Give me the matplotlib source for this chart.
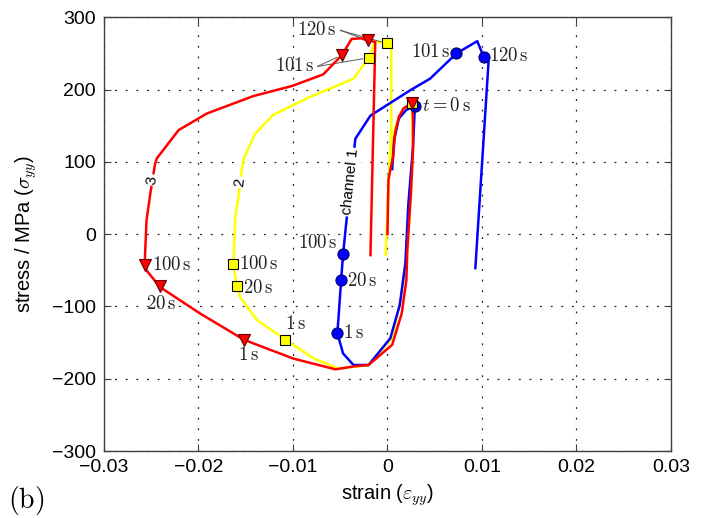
import matplotlib
matplotlib.use("Agg")
import matplotlib.pyplot as plt

plt.rcParams['font.family'] = ['Liberation Sans', 'DejaVu Sans']
plt.rcParams['mathtext.fontset'] = 'cm'

# channel 1 (blue): strain / stress path
ch1_strain = [0.0005, 0.0007, 0.0012, 0.0020, 0.0029, 0.0027, 0.0022, 0.0019, 0.0013,
              0.0003, -0.0020, -0.0036, -0.0047, -0.0053, -0.0049, -0.0047, -0.0044,
              -0.0034, -0.0018, 0.0024, 0.0045, 0.0073, 0.0095, 0.0102, 0.0107, 0.0093]
ch1_stress = [90, 130, 160, 172, 177, 120, 40, -40, -98,
              -144, -181, -181, -165, -137, -63, -28, 11,
              132, 164, 199, 215, 250, 267, 245, 239, -47]

# channel 2 (yellow)
ch2_strain = [0.0000, 0.0001, 0.0003, 0.0006, 0.0012, 0.0017, 0.0026, 0.0027, 0.0025,
              0.0021, 0.0015, 0.0005, -0.0020, -0.0052, -0.0078, -0.0108, -0.0138,
              -0.0156, -0.0159, -0.0161, -0.0163, -0.0161, -0.0158, -0.0154, -0.0152,
              -0.0140, -0.0121, -0.0085, -0.0036, -0.0020, -0.0013, -0.0001, 0.0004,
              0.0004, -0.0002]
ch2_stress = [0, 75, 100, 139, 162, 174, 181, 116, 61,
              -22, -84, -144, -181, -186, -172, -146, -119,
              -87, -72, -59, -41, 24, 49, 91, 105,
              139, 165, 188, 215, 244, 266, 265, 259,
              150, -29]

# channel 3 (red)
ch3_strain = [0.0000, 0.0001, 0.0003, 0.0006, 0.0008, 0.0012, 0.0017, 0.0026, 0.0027,
              0.0027, 0.0025, 0.0021, 0.0020, 0.0015, 0.0005, -0.0020, -0.0036,
              -0.0055, -0.0100, -0.0152, -0.0198, -0.0241, -0.0255, -0.0257, -0.0255,
              -0.0251, -0.0246, -0.0244, -0.0221, -0.0191, -0.0142, -0.0101, -0.0068,
              -0.0048, -0.0038, -0.0028, -0.0021, -0.0013, -0.0013, -0.0018]
ch3_stress = [0, 75, 89, 107, 139, 162, 174, 182, 160,
              116, 61, -22, -64, -110, -153, -181, -183,
              -187, -172, -146, -110, -73, -50, -42, 19,
              56, 97, 105, 144, 167, 191, 205, 221,
              248, 270, 271, 268, 266, 262, -29]

# time markers: t=0, 1 s, 20 s, 100 s, 101 s, 120 s
ch1_mark_strain = [0.0029, -0.0053, -0.0049, -0.0047, 0.0073, 0.0102]
ch1_mark_stress = [177, -137, -63, -28, 250, 245]
ch2_mark_strain = [0.0026, -0.0108, -0.0159, -0.0163, -0.0020, -0.0001]
ch2_mark_stress = [181, -146, -72, -41, 244, 264]
ch3_mark_strain = [0.0026, -0.0152, -0.0241, -0.0257, -0.0048, -0.0021]
ch3_mark_stress = [182, -146, -72, -42, 248, 268]

time_labels = [r'$t=0\,\mathrm{s}$', r'$1\,\mathrm{s}$', r'$20\,\mathrm{s}$',
               r'$100\,\mathrm{s}$', r'$101\,\mathrm{s}$', r'$120\,\mathrm{s}$']

xticks = [-0.03, -0.02, -0.01, 0, 0.01, 0.02, 0.03]
xtick_labels = ['\u22120.03', '\u22120.02', '\u22120.01', '0', '0.01', '0.02', '0.03']
yticks = [-300, -200, -100, 0, 100, 200, 300]
ytick_labels = ['\u2212300', '\u2212200', '\u2212100', '0', '100', '200', '300']

fig = plt.figure(figsize=(7.07, 5.18), dpi=100)
ax = fig.add_axes([0.1471, 0.1293, 0.8019, 0.8373])

lw = 1.8
ax.plot(ch2_strain, ch2_stress, color='#ffff00', lw=lw, zorder=2)
ax.plot(ch1_strain, ch1_stress, color='#0000ff', lw=lw, zorder=3)
ax.plot(ch3_strain, ch3_stress, color='#ff0000', lw=lw, zorder=4)

ax.plot(ch1_mark_strain, ch1_mark_stress, 'o', ms=8, mfc='#0000ff', mec='#000060',
        mew=0.8, zorder=5)
ax.plot(ch2_mark_strain, ch2_mark_stress, 's', ms=7, mfc='#ffff00', mec='black',
        mew=0.8, zorder=6)
ax.plot(ch3_mark_strain, ch3_mark_stress, 'v', ms=9, mfc='#ff0000', mec='#600000',
        mew=0.8, zorder=7)

tfs = 13.5
tcol = '#222222'


def lab(x, y, s, dx, dy, ha='left'):
    ax.annotate(s, (x, y), xytext=(dx, dy), textcoords='offset points',
                ha=ha, va='center', fontsize=tfs, color=tcol, zorder=8)


# t = 0
lab(ch1_mark_strain[0], ch1_mark_stress[0], time_labels[0], 5, 0)
# channel 1 labels
lab(ch1_mark_strain[1], ch1_mark_stress[1], time_labels[1], 4, 0)
lab(ch1_mark_strain[2], ch1_mark_stress[2], time_labels[2], 4, -1)
lab(ch1_mark_strain[3], ch1_mark_stress[3], time_labels[3], -4, 8, ha='right')
lab(ch1_mark_strain[4], ch1_mark_stress[4], time_labels[4], -4, 1, ha='right')
lab(ch1_mark_strain[5], ch1_mark_stress[5], time_labels[5], 4, 1)
# channel 2 labels
lab(ch2_mark_strain[1], ch2_mark_stress[1], time_labels[1], 0, 11)
lab(ch2_mark_strain[2], ch2_mark_stress[2], time_labels[2], 4, -1)
lab(ch2_mark_strain[3], ch2_mark_stress[3], time_labels[3], 4, 0)
# channel 3 labels
lab(ch3_mark_strain[1], ch3_mark_stress[1], time_labels[1], -4, -11)
lab(ch3_mark_strain[2], ch3_mark_stress[2], time_labels[2], -10, -13)
lab(ch3_mark_strain[3], ch3_mark_stress[3], time_labels[3], 5, 0)

# shared leader labels for channels 2 and 3 at 101 s / 120 s
ax.text(-0.00535, 282, time_labels[5], ha='right', va='center', fontsize=tfs,
        color=tcol, zorder=8)
ax.text(-0.0077, 233, time_labels[4], ha='right', va='center', fontsize=tfs,
        color=tcol, zorder=8)
lead = dict(arrowstyle='-', color='0.35', lw=0.7, shrinkA=0, shrinkB=4)
ax.annotate('', xy=(ch3_mark_strain[5], ch3_mark_stress[5]), xytext=(-0.0050, 282),
            arrowprops=lead)
ax.annotate('', xy=(ch2_mark_strain[5], ch2_mark_stress[5]), xytext=(-0.0050, 282),
            arrowprops=lead)
ax.annotate('', xy=(ch3_mark_strain[4], ch3_mark_stress[4]), xytext=(-0.0074, 232),
            arrowprops=lead)
ax.annotate('', xy=(ch2_mark_strain[4], ch2_mark_stress[4]), xytext=(-0.0074, 232),
            arrowprops=lead)

# inline channel labels
box = dict(facecolor='white', edgecolor='none', pad=1)
ax.text(-0.00388, 72, 'channel 1', rotation=84, ha='center', va='center',
        fontsize=11, bbox=box, zorder=4.5)
ax.text(-0.0156, 72, '2', rotation=84, ha='center', va='center',
        fontsize=11, bbox=box, zorder=4.5)
ax.text(-0.0249, 75, '3', rotation=83, ha='center', va='center',
        fontsize=11, bbox=box, zorder=4.5)

ax.set_xlim(-0.03, 0.03)
ax.set_ylim(-300, 300)
ax.set_xticks(xticks)
ax.set_xticklabels(xtick_labels)
ax.set_yticks(yticks)
ax.set_yticklabels(ytick_labels)
ax.tick_params(direction='in', top=True, right=True, length=5, width=0.8,
               color='#404040', labelsize=14, pad=6)
for sp in ax.spines.values():
    sp.set_color('#404040')
    sp.set_linewidth(1.0)
ax.grid(True, color='#222222', lw=0.9, linestyle=(0, (1.5, 7)))
ax.set_axisbelow(True)

ax.set_xlabel(r'strain ($\varepsilon_{yy}$)', fontsize=14.5, labelpad=4)
ax.set_ylabel(r'stress / MPa ($\sigma_{yy}$)', fontsize=14.5, labelpad=9)

fig.text(0.011, 0.02, r'$\mathrm{(b)}$', fontsize=20, va='baseline', ha='left')

fig.savefig('out.png', dpi=100)
